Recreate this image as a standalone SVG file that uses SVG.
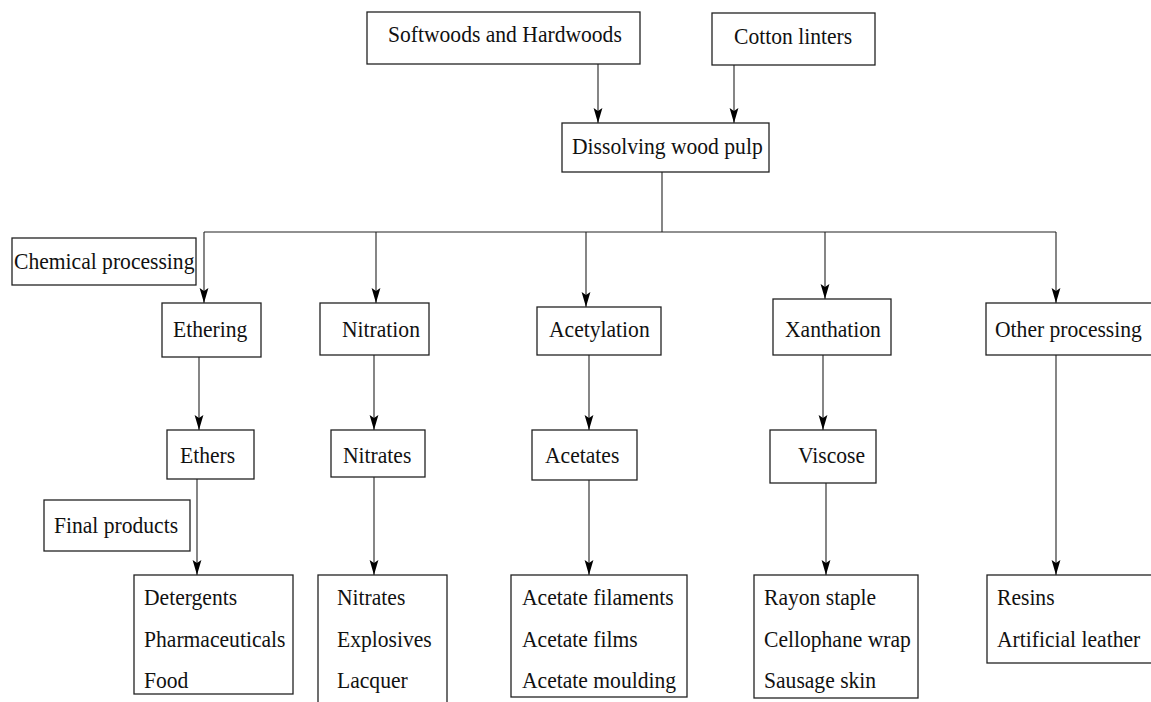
<svg xmlns="http://www.w3.org/2000/svg" width="1151" height="702" viewBox="0 0 1151 702">
<style>
  rect { fill: #fff; stroke: #222; stroke-width: 1.3; }
  text { font-family: "Liberation Serif", "Times New Roman", serif; font-size: 23.6px; fill: #111; }
  .c line { stroke: #222; stroke-width: 1.1; fill: none; }
</style>
<defs>
  <marker id="ah" markerUnits="userSpaceOnUse" markerWidth="16" markerHeight="10" viewBox="0 0 16 10" refX="15" refY="5" orient="auto">
    <path d="M0,0.6 L15,5 L0,9.4 L3,5 Z" fill="#000" stroke="none"/>
  </marker>
</defs>
<rect x="-1" y="-1" width="1153" height="704" style="fill:#fff;stroke:none"/>

<g class="c" id="connectors">
  <line x1="598" y1="64" x2="598" y2="123" marker-end="url(#ah)"/>
  <line x1="734" y1="65" x2="734" y2="123" marker-end="url(#ah)"/>
  <line x1="662" y1="172" x2="662" y2="232"/>
  <line x1="204" y1="232" x2="1056" y2="232"/>
  <line x1="204" y1="232" x2="204" y2="303" marker-end="url(#ah)"/>
  <line x1="376" y1="232" x2="376" y2="303" marker-end="url(#ah)"/>
  <line x1="586" y1="232" x2="586" y2="307" marker-end="url(#ah)"/>
  <line x1="825" y1="232" x2="825" y2="299" marker-end="url(#ah)"/>
  <line x1="1056" y1="232" x2="1056" y2="303" marker-end="url(#ah)"/>
  <line x1="199" y1="357" x2="199" y2="430" marker-end="url(#ah)"/>
  <line x1="374" y1="355" x2="374" y2="430" marker-end="url(#ah)"/>
  <line x1="589" y1="355" x2="589" y2="430" marker-end="url(#ah)"/>
  <line x1="823" y1="355" x2="823" y2="430" marker-end="url(#ah)"/>
  <line x1="197" y1="479" x2="197" y2="575" marker-end="url(#ah)"/>
  <line x1="374" y1="477" x2="374" y2="575" marker-end="url(#ah)"/>
  <line x1="589" y1="480" x2="589" y2="575" marker-end="url(#ah)"/>
  <line x1="826" y1="483" x2="826" y2="575" marker-end="url(#ah)"/>
  <line x1="1056" y1="355" x2="1056" y2="575" marker-end="url(#ah)"/>
</g>

<g id="softwoods"><rect x="367" y="12" width="273" height="52"/><text transform="translate(388,42) scale(0.915,1)">Softwoods and Hardwoods</text></g>
<g id="cotton"><rect x="712" y="13" width="163" height="52"/><text transform="translate(734,44) scale(0.915,1)">Cotton linters</text></g>
<g id="pulp"><rect x="562" y="123" width="207" height="49"/><text transform="translate(572,154) scale(0.915,1)">Dissolving wood pulp</text></g>
<g id="chemical"><rect x="12" y="238" width="184" height="47"/><text transform="translate(14,269) scale(0.915,1)">Chemical processing</text></g>

<g id="ethering"><rect x="162" y="303" width="99" height="54"/><text transform="translate(173,337) scale(0.915,1)">Ethering</text></g>
<g id="nitration"><rect x="320" y="303" width="109" height="52"/><text transform="translate(342,337) scale(0.915,1)">Nitration</text></g>
<g id="acetylation"><rect x="537" y="307" width="124" height="48"/><text transform="translate(549,337) scale(0.915,1)">Acetylation</text></g>
<g id="xanthation"><rect x="773" y="299" width="118" height="56"/><text transform="translate(785,337) scale(0.915,1)">Xanthation</text></g>
<g id="other"><rect x="986" y="303" width="175" height="52"/><text transform="translate(995,337) scale(0.915,1)">Other processing</text></g>

<g id="ethers"><rect x="167" y="430" width="87" height="49"/><text transform="translate(180,463) scale(0.915,1)">Ethers</text></g>
<g id="nitrates"><rect x="331" y="430" width="94" height="47"/><text transform="translate(343,463) scale(0.915,1)">Nitrates</text></g>
<g id="acetates"><rect x="532" y="430" width="105" height="50"/><text transform="translate(545,463) scale(0.915,1)">Acetates</text></g>
<g id="viscose"><rect x="770" y="430" width="106" height="53"/><text transform="translate(798,463) scale(0.915,1)">Viscose</text></g>

<g id="final"><rect x="44" y="500" width="146" height="51"/><text transform="translate(54,533) scale(0.915,1)">Final products</text></g>

<g id="p-ethers"><rect x="134" y="575" width="159" height="119"/>
  <text transform="translate(144,605) scale(0.915,1)">Detergents</text><text transform="translate(144,647) scale(0.915,1)">Pharmaceuticals</text><text transform="translate(144,688) scale(0.915,1)">Food</text></g>
<g id="p-nitrates"><rect x="318" y="575" width="129" height="140"/>
  <text transform="translate(337,605) scale(0.915,1)">Nitrates</text><text transform="translate(337,647) scale(0.915,1)">Explosives</text><text transform="translate(337,688) scale(0.915,1)">Lacquer</text></g>
<g id="p-acetates"><rect x="511" y="575" width="176" height="122"/>
  <text transform="translate(522,605) scale(0.915,1)">Acetate filaments</text><text transform="translate(522,647) scale(0.915,1)">Acetate films</text><text transform="translate(522,688) scale(0.915,1)">Acetate moulding</text></g>
<g id="p-viscose"><rect x="754" y="575" width="164" height="123"/>
  <text transform="translate(764,605) scale(0.915,1)">Rayon staple</text><text transform="translate(764,647) scale(0.915,1)">Cellophane wrap</text><text transform="translate(764,688) scale(0.915,1)">Sausage skin</text></g>
<g id="p-other"><rect x="987" y="575" width="175" height="88"/>
  <text transform="translate(997,605) scale(0.915,1)">Resins</text><text transform="translate(997,647) scale(0.915,1)">Artificial leather</text></g>
</svg>
